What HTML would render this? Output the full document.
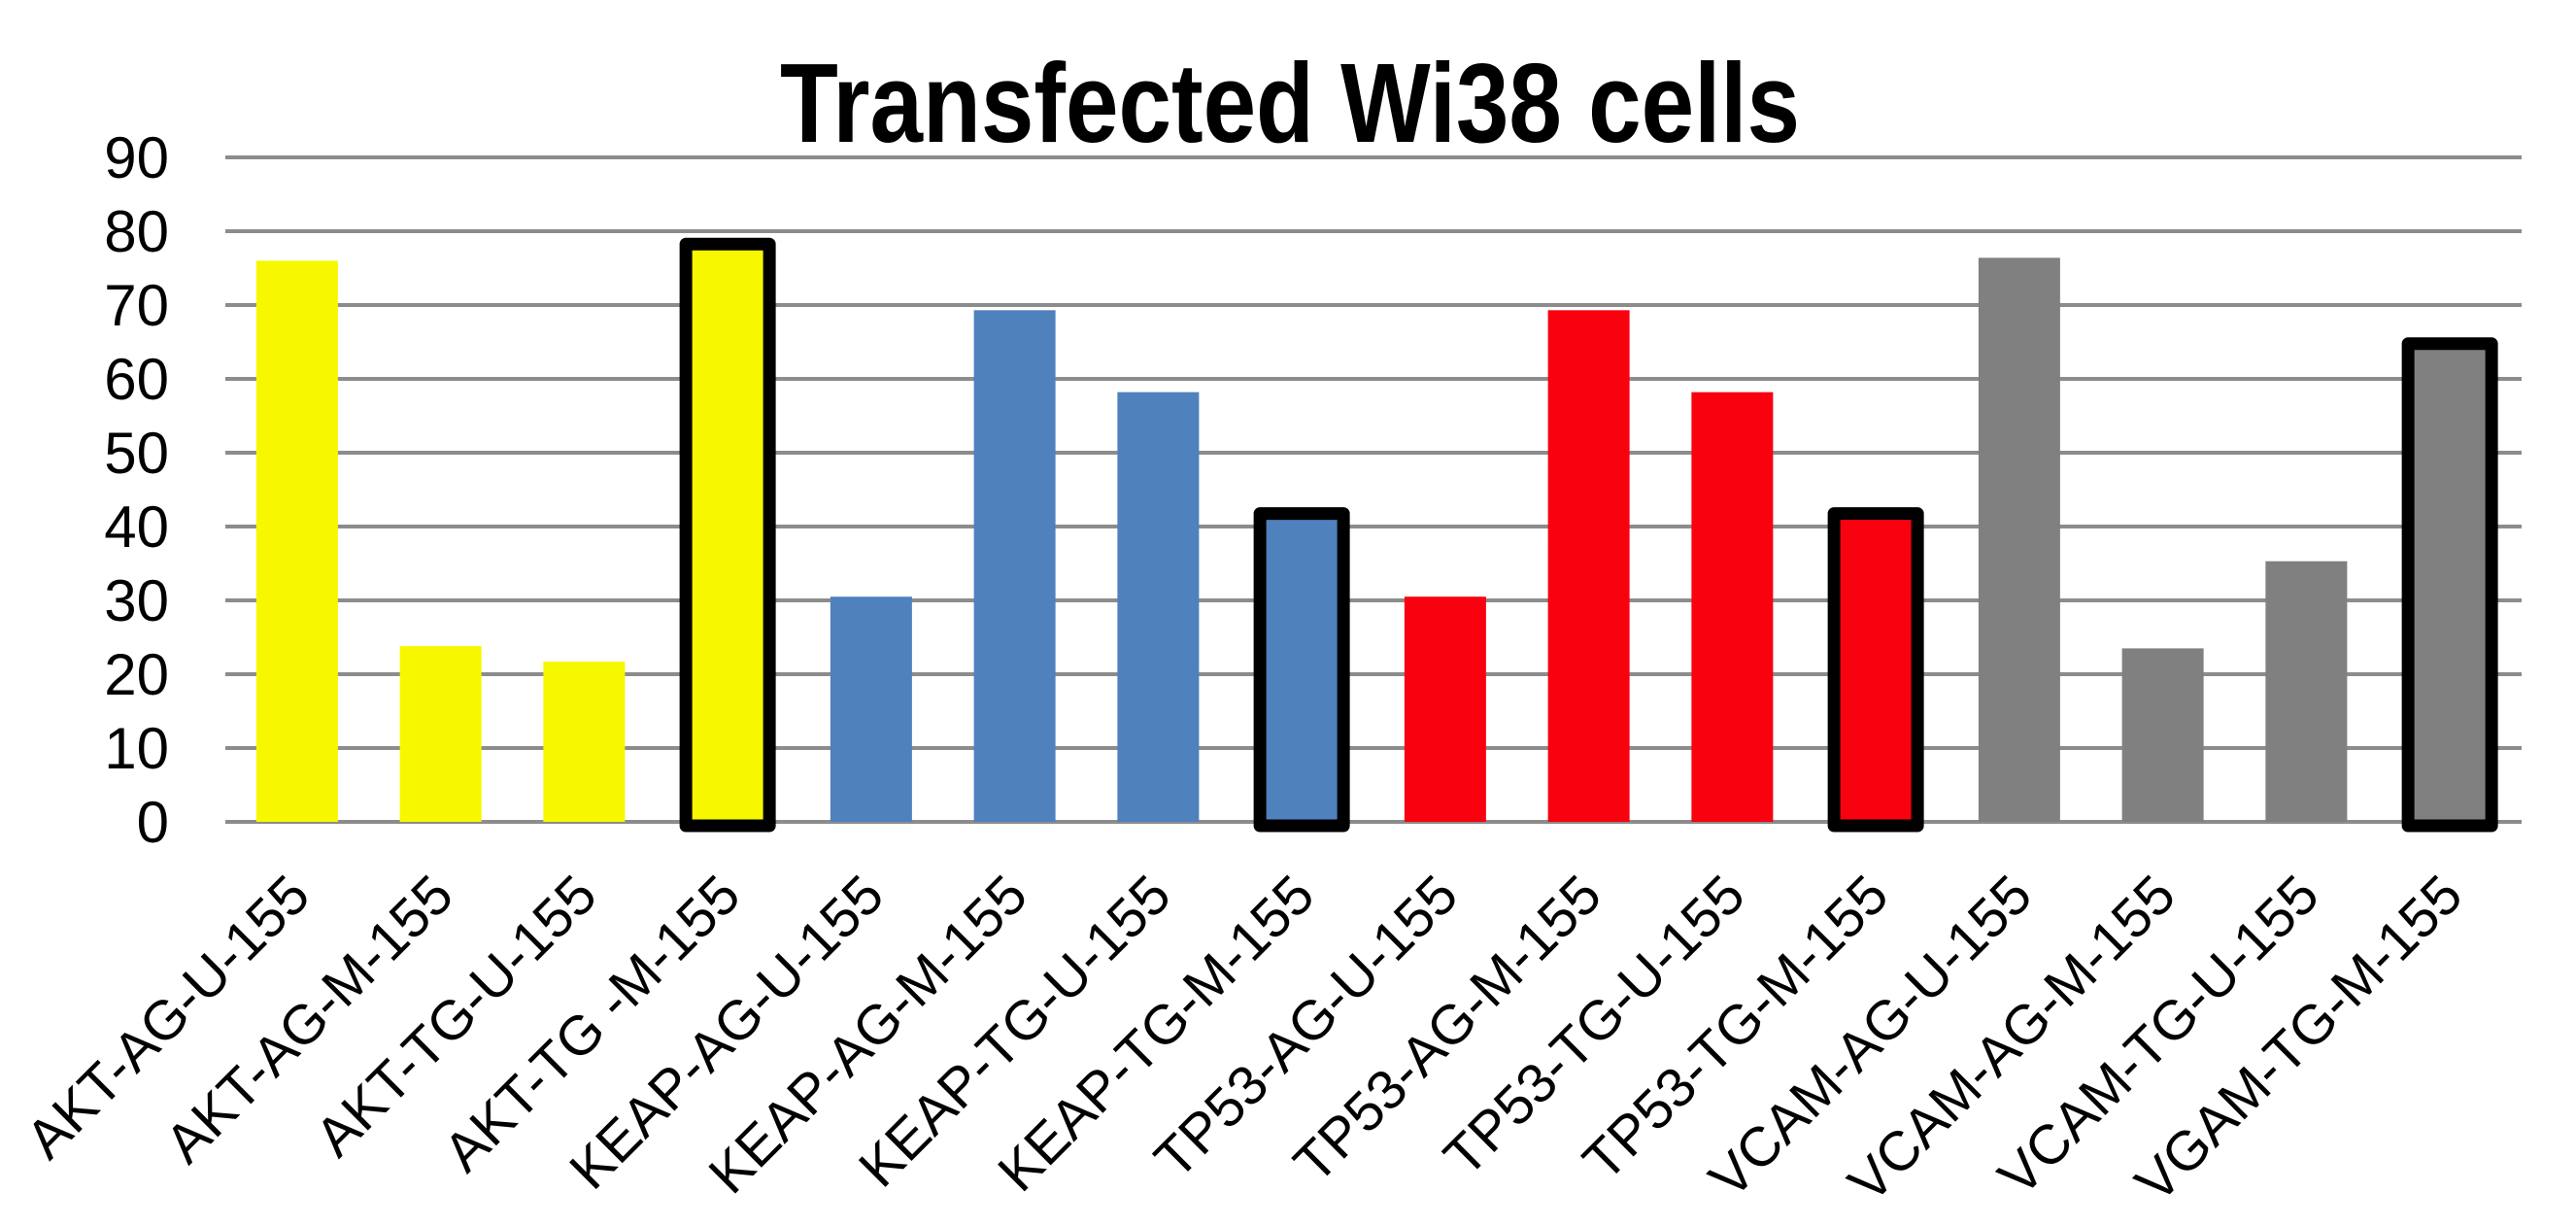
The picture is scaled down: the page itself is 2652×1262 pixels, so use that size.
<!DOCTYPE html>
<html><head><meta charset="utf-8"><style>html,body{margin:0;padding:0;background:#fff;}</style></head>
<body>
<svg width="2652" height="1257" viewBox="0 0 2652 1257" xmlns="http://www.w3.org/2000/svg" font-family="Liberation Sans, sans-serif">
<rect width="2652" height="1257" fill="#fff"/>
<text x="1328" y="146" font-size="116" font-weight="bold" text-anchor="middle" fill="#000" textLength="1050" lengthAdjust="spacingAndGlyphs">Transfected Wi38 cells</text>
<g stroke="#8c8c8c" stroke-width="4">
<line x1="232" x2="2596" y1="162" y2="162"/>
<line x1="232" x2="2596" y1="238" y2="238"/>
<line x1="232" x2="2596" y1="314" y2="314"/>
<line x1="232" x2="2596" y1="390" y2="390"/>
<line x1="232" x2="2596" y1="466" y2="466"/>
<line x1="232" x2="2596" y1="542" y2="542"/>
<line x1="232" x2="2596" y1="618" y2="618"/>
<line x1="232" x2="2596" y1="694" y2="694"/>
<line x1="232" x2="2596" y1="770" y2="770"/>
<line x1="232" x2="2596" y1="846" y2="846"/>
</g>
<g font-size="60" text-anchor="end" fill="#000">
<text x="174" y="183">90</text><text x="174" y="259">80</text><text x="174" y="335">70</text>
<text x="174" y="411">60</text><text x="174" y="487">50</text><text x="174" y="563">40</text>
<text x="174" y="639">30</text><text x="174" y="715">20</text><text x="174" y="791">10</text>
<text x="174" y="867">0</text>
</g>
<g id="bars"></g>
<g id="labels" font-size="57" fill="#000"></g>
<script>
var vals=[76,23.8,21.7,78,30.5,69.3,58.2,41.5,30.5,69.3,58.2,41.5,76.4,23.5,35.3,64.5];
var cols=["#f7f700","#f7f700","#f7f700","#f7f700","#4f81bd","#4f81bd","#4f81bd","#4f81bd","#f80210","#f80210","#f80210","#f80210","#808080","#808080","#808080","#808080"];
var names=["AKT-AG-U-155","AKT-AG-M-155","AKT-TG-U-155","AKT-TG -M-155","KEAP-AG-U-155","KEAP-AG-M-155","KEAP-TG-U-155","KEAP-TG-M-155","TP53-AG-U-155","TP53-AG-M-155","TP53-TG-U-155","TP53-TG-M-155","VCAM-AG-U-155","VCAM-AG-M-155","VCAM-TG-U-155","VGAM-TG-M-155"];
var ns="http://www.w3.org/2000/svg",b=document.getElementById("bars"),l=document.getElementById("labels");
for(var i=0;i<16;i++){var c=232+147.75*(i+0.5),h=vals[i]*7.6,r=document.createElementNS(ns,"rect");
var out=(i%4==3);
r.setAttribute("x",c-42);r.setAttribute("width",84);r.setAttribute("y",846-h);r.setAttribute("height",h);r.setAttribute("fill",cols[i]);
if(out){r.setAttribute("stroke","#000");r.setAttribute("stroke-width","13");r.setAttribute("stroke-linejoin","round");r.setAttribute("x",c-43);r.setAttribute("width",86);r.setAttribute("y",846-h-2);r.setAttribute("height",h+6);}
b.appendChild(r);
var t=document.createElementNS(ns,"text");t.setAttribute("text-anchor","end");
t.setAttribute("transform","translate("+(c+16)+",925) rotate(-45)");t.textContent=names[i];l.appendChild(t);}
</script>
</svg>
</body></html>
